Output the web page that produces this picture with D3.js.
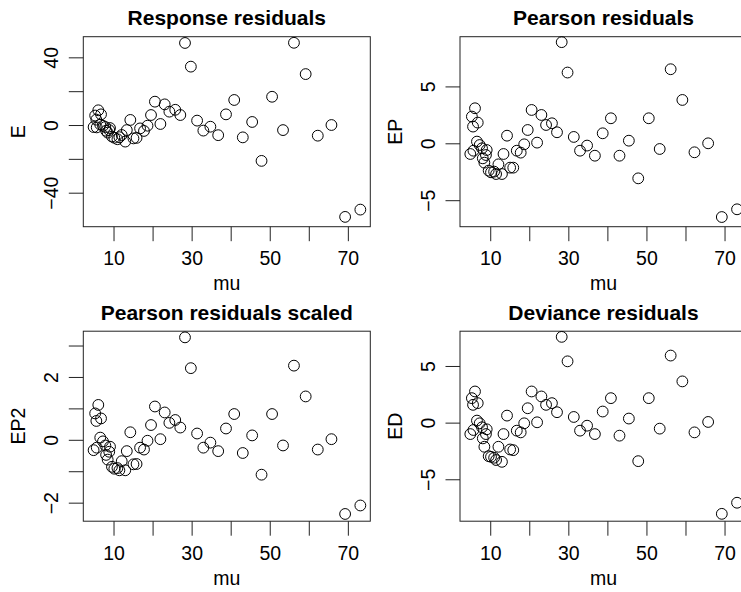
<!DOCTYPE html>
<html>
<head>
<meta charset="utf-8">
<script src="https://cdn.jsdelivr.net/npm/d3@7"></script>
<style>
  body { margin: 0; background: #fff; }
  text { font-family: "Liberation Sans", Arial, Helvetica, sans-serif; fill: #000; }
</style>
</head>
<body>
<div id="chart"></div>
<script>
// fitted means, shared by every panel
var mu = [4.9, 5.3, 5.6, 5.7, 6.1, 6.6, 6.8, 7.3, 7.9, 8.1, 8.5, 8.9, 9.1, 9.6, 10.2, 11.0, 11.5, 12.1, 13.0, 13.4, 14.3, 15.1, 15.9, 16.8, 17.8, 18.7,
  19.6, 20.6, 22.0, 23.1, 24.3, 25.8, 27.1, 28.3, 29.8, 31.4, 33.0, 34.8, 36.8, 38.8, 40.9, 43.1, 45.5, 47.9, 50.6, 53.4, 56.2, 59.2, 62.3, 65.8, 69.3, 73.2];

// residuals
var respRes = [-1.2, 5.6, 3.2, -1.4, 8.7, 0.3, 6.3, -0.5, -1.2, -3.4, -4.5, -3.0, -1.8, -6.8, -7.5, -8.4, -7.2, -5.9, -9.8, -3.0, 3.0, -7.9, -7.6, -2.0, -3.5, -0.4,
  5.9, 13.8, 0.6, 12.2, 7.9, 9.0, 5.9, 48.5, 34.5, 2.6, -3.3, -1.0, -6.0, 6.3, 14.8, -7.3, 1.8, -21.2, 16.7, -3.0, 48.6, 30.1, -6.3, 0.0, -54.3, -50.0];
var pearsonRes = [-0.94, 2.35, 1.47, -0.65, 3.08, 0.15, 1.82, -0.15, -0.44, -1.32, -1.7, -1.03, -0.59, -2.4, -2.55, -2.49, -2.7, -1.85, -2.7, -0.94, 0.67, -2.14, -2.14, -0.65, -0.82, -0.09,
  1.17, 2.93, 0.06, 2.49, 1.61, 1.76, 0.97, 8.89, 6.22, 0.56, -0.65, -0.2, -1.09, 0.88, 2.2, -1.09, 0.23, -3.08, 2.2, -0.5, 6.51, 3.81, -0.79, 0.0, -6.48, -5.8];
var pearsonScaled = [-0.33, 0.84, 0.6, -0.25, 1.11, 0.07, 0.68, -0.05, -0.18, -0.48, -0.63, -0.38, -0.22, -0.86, -0.92, -0.9, -0.97, -0.68, -0.97, -0.36, 0.24, -0.78, -0.77, -0.25, -0.31, -0.03,
  0.47, 1.06, 0.02, 0.87, 0.54, 0.63, 0.39, 3.26, 2.28, 0.2, -0.25, -0.09, -0.36, 0.36, 0.82, -0.42, 0.14, -1.11, 0.82, -0.18, 2.36, 1.38, -0.31, 0.02, -2.36, -2.09];
var devianceRes = [-1.01, 2.16, 1.57, -0.65, 2.75, 0.18, 1.72, -0.06, -0.41, -1.39, -2.13, -1.01, -0.59, -2.96, -3.02, -3.1, -3.3, -2.13, -3.46, -1.01, 0.62, -2.37, -2.43, -0.71, -0.86, -0.06,
  1.27, 2.75, 0.03, 2.31, 1.57, 1.72, 0.92, 7.57, 5.41, 0.5, -0.71, -0.27, -1.01, 0.98, 2.16, -1.15, 0.36, -3.4, 2.16, -0.53, 5.92, 3.64, -0.86, 0.06, -8.05, -7.07];

// ticks (R drops labels that would overlap)
var xTicks = [10, 20, 30, 40, 50, 60, 70];
var xTickLabels = [10, 30, 50, 70];
var eTicks = [-40, -20, 0, 20, 40];
var eTickLabels = [-40, 0, 40];
var epTicks = [-5, 0, 5];
var ep2Ticks = [-2, -1, 0, 1, 2, 3];
var ep2TickLabels = [-2, 0, 2];
var edTicks = [-5, 0, 5];

var titles = ["Response residuals", "Pearson residuals", "Pearson residuals scaled", "Deviance residuals"];
var yNames = ["E", "EP", "EP2", "ED"];
var xName = "mu";

var panels = [
  {title: titles[0], ylab: yNames[0], vals: respRes, yDom: [-60.1, 52.2], ticks: eTicks, labels: eTickLabels, col: 0, row: 0},
  {title: titles[1], ylab: yNames[1], vals: pearsonRes, yDom: [-7.33, 9.37], ticks: epTicks, labels: epTicks, col: 1, row: 0},
  {title: titles[2], ylab: yNames[2], vals: pearsonScaled, yDom: [-2.59, 3.456], ticks: ep2Ticks, labels: ep2TickLabels, col: 0, row: 1},
  {title: titles[3], ylab: yNames[3], vals: devianceRes, yDom: [-8.70, 8.07], ticks: edTicks, labels: edTicks, col: 1, row: 1}
];

var W = 741, H = 592;
var boxW = 287, boxH = 190;
var tick = 14.5;
var fs = 19.5;

var svg = d3.select("#chart").append("svg")
  .attr("width", W)
  .attr("height", H);

panels.forEach(function(p) {
  var left = p.col ? 460 : 83.3;
  var top = p.row ? 331.2 : 36.7;

  var g = svg.append("g")
    .attr("transform", "translate(" + left + "," + top + ")");

  var x = d3.scaleLinear().domain([2.26, 75.75]).range([0, boxW]);
  var y = d3.scaleLinear().domain(p.yDom).range([boxH, 0]);

  // x axis
  var xa = g.append("g")
    .attr("transform", "translate(0," + boxH + ")")
    .call(d3.axisBottom(x)
      .tickValues(xTicks)
      .tickSize(tick)
      .tickPadding(10)
      .tickFormat(function(d) { return xTickLabels.indexOf(d) >= 0 ? d : ""; }));
  xa.select(".domain").remove();
  xa.selectAll("line").attr("stroke", "#222");
  xa.selectAll("text").style("font-size", fs + "px").attr("fill", "#000");

  // y axis, labels parallel to the axis
  var ya = g.append("g")
    .call(d3.axisLeft(y)
      .tickValues(p.ticks)
      .tickSize(tick)
      .tickFormat(function(d) { return p.labels.indexOf(d) >= 0 ? String(d).replace("-", "\u2212") : ""; }));
  ya.select(".domain").remove();
  ya.selectAll("line").attr("stroke", "#222");
  ya.selectAll("text")
    .style("font-size", fs + "px")
    .attr("fill", "#000")
    .attr("transform", "rotate(-90)")
    .attr("x", 0)
    .attr("y", -32.5)
    .attr("dy", "0.36em")
    .attr("text-anchor", "middle");

  // box
  g.append("rect")
    .attr("width", boxW)
    .attr("height", boxH)
    .attr("fill", "none")
    .attr("stroke", "#222")
    .attr("stroke-width", 1);

  // points
  g.selectAll("circle")
    .data(mu)
    .enter()
    .append("circle")
      .attr("cx", function(d) { return x(d); })
      .attr("cy", function(d, i) { return y(p.vals[i]); })
      .attr("r", 5.4)
      .attr("fill", "none")
      .attr("stroke", "#000")
      .attr("stroke-width", 1);

  // titles
  g.append("text")
    .attr("x", boxW / 2)
    .attr("y", -11.5)
    .attr("text-anchor", "middle")
    .style("font-size", "21px")
    .style("font-weight", "bold")
    .text(p.title);

  g.append("text")
    .attr("x", boxW / 2)
    .attr("y", boxH + 63.5)
    .attr("text-anchor", "middle")
    .style("font-size", fs + "px")
    .text(xName);

  g.append("text")
    .attr("transform", "rotate(-90)")
    .attr("x", -boxH / 2)
    .attr("y", -65)
    .attr("dy", "0.36em")
    .attr("text-anchor", "middle")
    .style("font-size", fs + "px")
    .text(p.ylab);
});
</script>
</body>
</html>
